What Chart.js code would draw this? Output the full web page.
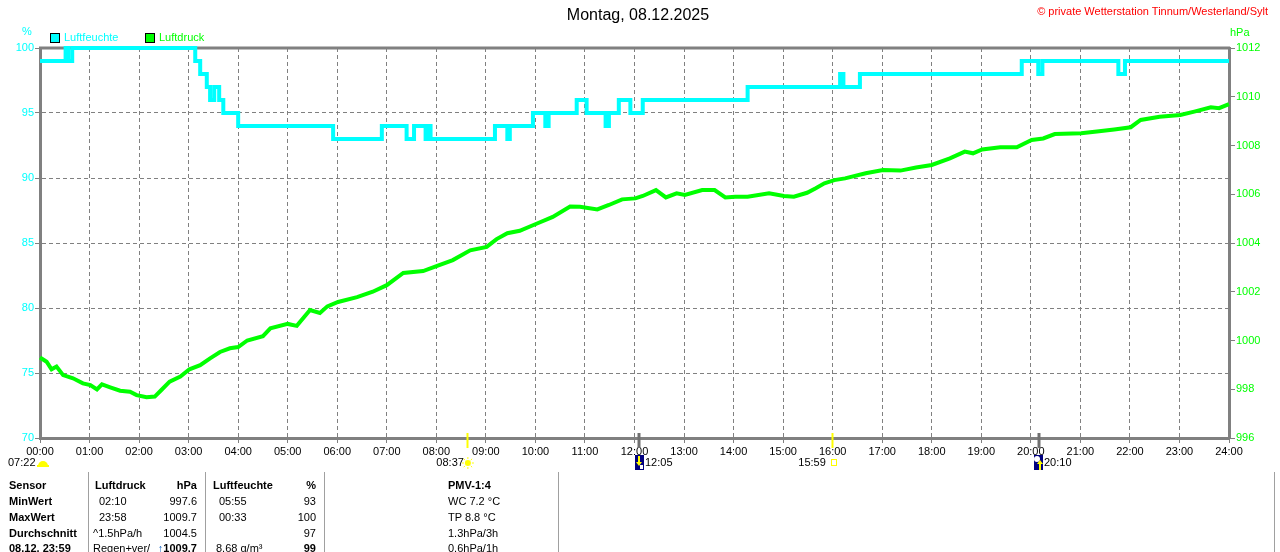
<!DOCTYPE html>
<html><head><meta charset="utf-8">
<script src="https://cdn.jsdelivr.net/npm/chart.js@4"></script>
<style>
html,body{margin:0;padding:0;background:#fff;width:1280px;height:552px;overflow:hidden;font-family:"Liberation Sans",Arial,sans-serif;}
#wrap{position:relative;width:1280px;height:552px;}
canvas{position:absolute;left:0;top:0;}
.t{position:absolute;font-size:11px;line-height:13px;white-space:nowrap;color:#000;}
.b{font-weight:bold;}
.sep{position:absolute;width:1px;background:#a0a0a0;top:472px;height:80px;}
.box{position:absolute;width:8px;height:8px;border:1px solid #000;}
</style></head><body>
<div id="wrap">
<canvas id="c" width="1280" height="552"></canvas>
<div class="t" style="left:0;width:1276px;text-align:center;top:6px;font-size:16px;line-height:18px;">Montag, 08.12.2025</div>
<div class="t" style="right:12px;top:5px;color:#ff0000;">© private Wetterstation Tinnum/Westerland/Sylt</div>
<div class="t" style="left:22px;top:25px;color:#00ffff;">%</div>
<div class="t" style="left:1230px;top:26px;color:#00ff00;">hPa</div>
<div class="box" style="left:50px;top:33px;background:#00ffff;"></div>
<div class="t" style="left:64px;top:31px;color:#00ffff;">Luftfeuchte</div>
<div class="box" style="left:145px;top:33px;background:#00ff00;"></div>
<div class="t" style="left:159px;top:31px;color:#00ff00;">Luftdruck</div>

<div class="sep" style="left:88px;"></div>
<div class="sep" style="left:205px;"></div>
<div class="sep" style="left:324px;"></div>
<div class="sep" style="left:558px;"></div>
<div class="sep" style="left:1274px;"></div>

<div class="t b" style="left:9px;top:479px;">Sensor</div>
<div class="t b" style="left:9px;top:495px;">MinWert</div>
<div class="t b" style="left:9px;top:511px;">MaxWert</div>
<div class="t b" style="left:9px;top:527px;">Durchschnitt</div>
<div class="t b" style="left:9px;top:542px;">08.12. 23:59</div>

<div class="t b" style="left:95px;top:479px;">Luftdruck</div>
<div class="t b" style="right:1083px;top:479px;">hPa</div>
<div class="t" style="left:99px;top:495px;">02:10</div>
<div class="t" style="right:1083px;top:495px;">997.6</div>
<div class="t" style="left:99px;top:511px;">23:58</div>
<div class="t" style="right:1083px;top:511px;">1009.7</div>
<div class="t" style="left:93px;top:527px;">^1.5hPa/h</div>
<div class="t" style="right:1083px;top:527px;">1004.5</div>
<div class="t" style="left:93px;top:542px;">Regen+ver/</div>
<div class="t b" style="right:1083px;top:542px;"><span style="color:#1060c0;">↑</span>1009.7</div>

<div class="t b" style="left:213px;top:479px;">Luftfeuchte</div>
<div class="t b" style="right:964px;top:479px;">%</div>
<div class="t" style="left:219px;top:495px;">05:55</div>
<div class="t" style="right:964px;top:495px;">93</div>
<div class="t" style="left:219px;top:511px;">00:33</div>
<div class="t" style="right:964px;top:511px;">100</div>
<div class="t" style="right:964px;top:527px;">97</div>
<div class="t" style="left:216px;top:542px;">8.68 g/m³</div>
<div class="t b" style="right:964px;top:542px;">99</div>

<div class="t b" style="left:448px;top:479px;">PMV-1:4</div>
<div class="t" style="left:448px;top:495px;">WC 7.2 °C</div>
<div class="t" style="left:448px;top:511px;">TP 8.8 °C</div>
<div class="t" style="left:448px;top:527px;">1.3hPa/3h</div>
<div class="t" style="left:448px;top:542px;">0.6hPa/1h</div>
</div>
<script>
// ---- data ----
const xLabels = ['00:00','01:00','02:00','03:00','04:00','05:00','06:00','07:00','08:00','09:00','10:00','11:00','12:00','13:00','14:00','15:00','16:00','17:00','18:00','19:00','20:00','21:00','22:00','23:00','24:00'];

// humidity (%) – change points in minutes after midnight
const humTime = [0,31,34,39,188,194,202,206,211,217,222,240,355,414,444,453,467,470,473,551,566,569,597,612,616,650,662,685,689,701,715,730,857,969,973,993,1189,1209,1214,1306,1314,1440];
const humVal  = [99,100,99,100,99,98,97,96,97,96,95,94,93,94,93,94,93,94,93,94,93,94,95,94,95,96,95,94,95,96,95,96,97,98,97,98,99,98,99,98,99,99];

// pressure (hPa)
const pressTime = [0,8,14,20,28,40,52,61,69,75,85,97,109,117,129,139,147,157,170,181,194,206,218,230,240,251,270,279,300,311,327,339,348,361,384,403,420,440,464,481,500,521,541,553,566,581,602,621,642,654,675,689,705,721,730,746,758,771,781,802,817,830,842,857,883,901,913,929,939,950,962,975,1000,1021,1042,1061,1080,1102,1120,1130,1141,1163,1183,1201,1215,1229,1261,1280,1301,1321,1333,1356,1381,1398,1418,1428,1440];
const pressVal = [999.3,999.13,998.82,998.93,998.58,998.45,998.24,998.17,997.99,998.2,998.08,997.94,997.9,997.76,997.67,997.7,997.97,998.31,998.52,998.82,998.99,999.27,999.53,999.68,999.73,1000.0,1000.18,1000.5,1000.68,1000.6,1001.25,1001.13,1001.4,1001.58,1001.78,1002.0,1002.27,1002.77,1002.85,1003.06,1003.3,1003.7,1003.84,1004.16,1004.4,1004.5,1004.8,1005.07,1005.5,1005.49,1005.38,1005.56,1005.79,1005.83,1005.93,1006.17,1005.87,1006.04,1005.97,1006.17,1006.17,1005.87,1005.9,1005.9,1006.04,1005.93,1005.9,1006.06,1006.24,1006.45,1006.58,1006.65,1006.86,1006.99,1006.97,1007.1,1007.2,1007.47,1007.75,1007.68,1007.84,1007.93,1007.93,1008.23,1008.29,1008.47,1008.5,1008.57,1008.66,1008.75,1009.05,1009.18,1009.25,1009.39,1009.57,1009.53,1009.7];

const dawnLabel = '07:22';
const sunriseTime = '08:37';
const sunsetTime = '15:59';
const moonsetTime = '12:05';
const moonriseTime = '20:10';

const hm = s => { const [h,m] = s.split(':').map(Number); return h*60+m; };
const FONT = '"Liberation Sans", Arial, sans-serif';

const decor = {
  id: 'decor',
  beforeDatasetsDraw(chart) {
    const {ctx, chartArea: a} = chart;
    ctx.save();
    ctx.strokeStyle = '#808080'; ctx.lineWidth = 3;
    ctx.beginPath(); ctx.moveTo(a.left - 1, a.top); ctx.lineTo(a.right + 1, a.top); ctx.stroke();
    ctx.restore();
  },
  afterDraw(chart) {
    const {ctx, chartArea: a, scales: {x}} = chart;
    const b = a.bottom;
    ctx.save();
    // sun markers
    ctx.strokeStyle = '#ffff00'; ctx.lineWidth = 2;
    [sunriseTime, sunsetTime].forEach(s => {
      const px = Math.round(x.getPixelForValue(hm(s))) + 0.5;
      ctx.beginPath(); ctx.moveTo(px, b - 5); ctx.lineTo(px, b + 10); ctx.stroke();
    });
    // moon markers
    ctx.strokeStyle = '#707070'; ctx.lineWidth = 3;
    [moonsetTime, moonriseTime].forEach(s => {
      const px = Math.round(x.getPixelForValue(hm(s)));
      ctx.beginPath(); ctx.moveTo(px, b - 5); ctx.lineTo(px, b + 10); ctx.stroke();
    });
    // second row labels
    ctx.font = '11px ' + FONT; ctx.fillStyle = '#000'; ctx.textBaseline = 'middle';
    const yr = 463;
    // dawn
    ctx.textAlign = 'left'; ctx.fillText(dawnLabel, 8, yr);
    ctx.fillStyle = '#ffff00';
    ctx.beginPath(); ctx.arc(43, yr + 3, 5, Math.PI, 0); ctx.fill();
    ctx.fillRect(37, yr + 2, 12, 2);
    // sunrise
    let px = x.getPixelForValue(hm(sunriseTime));
    ctx.fillStyle = '#000'; ctx.textAlign = 'right'; ctx.fillText(sunriseTime, px - 3, yr);
    ctx.fillStyle = '#ffff00';
    ctx.beginPath(); ctx.arc(px + 1, yr, 3, 0, Math.PI * 2); ctx.fill();
    ctx.strokeStyle = '#ffff00'; ctx.lineWidth = 1;
    for (let k = 0; k < 8; k++) {
      const an = k * Math.PI / 4;
      ctx.beginPath(); ctx.moveTo(px + 1 + Math.cos(an) * 4, yr + Math.sin(an) * 4);
      ctx.lineTo(px + 1 + Math.cos(an) * 6, yr + Math.sin(an) * 6); ctx.stroke();
    }
    // sunset
    px = x.getPixelForValue(hm(sunsetTime));
    ctx.fillStyle = '#000'; ctx.textAlign = 'right'; ctx.fillText(sunsetTime, px - 6, yr);
    ctx.strokeStyle = '#ffff00'; ctx.lineWidth = 1;
    ctx.strokeRect(Math.round(px) - 0.5, yr - 3.5, 5, 6);
    // moon set
    px = Math.round(x.getPixelForValue(hm(moonsetTime)));
    ctx.fillStyle = '#000080'; ctx.fillRect(px - 4, yr - 8, 9, 15);
    ctx.fillStyle = '#ffff00';
    ctx.fillRect(px - 1, yr - 7, 2, 7);
    ctx.beginPath(); ctx.moveTo(px - 3, yr - 1); ctx.lineTo(px + 3, yr - 1); ctx.lineTo(px, yr + 3); ctx.fill();
    ctx.fillStyle = '#ffffff'; ctx.fillRect(px + 1, yr + 2, 3, 4);
    ctx.fillStyle = '#000'; ctx.textAlign = 'left'; ctx.fillText(moonsetTime, px + 6, yr);
    // moon rise
    px = Math.round(x.getPixelForValue(hm(moonriseTime)));
    ctx.fillStyle = '#000080'; ctx.fillRect(px - 5, yr - 8, 9, 15);
    ctx.fillStyle = '#ffffff';
    ctx.beginPath(); ctx.arc(px - 2, yr - 4, 3, 0, Math.PI * 2); ctx.fill();
    ctx.fillStyle = '#ffff00';
    ctx.fillRect(px, yr, 2, 7);
    ctx.beginPath(); ctx.moveTo(px - 2, yr + 1); ctx.lineTo(px + 4, yr + 1); ctx.lineTo(px + 1, yr - 3); ctx.fill();
    ctx.fillStyle = '#000'; ctx.textAlign = 'left'; ctx.fillText(moonriseTime, px + 5, yr);
    ctx.restore();
  }
};

const gridCommon = {color: '#808080', lineWidth: 1, tickColor: '#808080', tickLength: 5};
const borderCommon = {color: '#808080', width: 3, dash: [4, 3]};

new Chart(document.getElementById('c').getContext('2d'), {
  type: 'line',
  data: {
    datasets: [
      {
        label: 'Luftdruck', yAxisID: 'yR',
        data: pressTime.map((t, i) => ({x: t, y: pressVal[i]})),
        borderColor: '#00ff00', backgroundColor: '#00ff00', borderWidth: 4,
        pointRadius: 0, tension: 0, clip: false, fill: false
      },
      {
        label: 'Luftfeuchte', yAxisID: 'yL',
        data: humTime.map((t, i) => ({x: t, y: humVal[i]})),
        borderColor: '#00ffff', backgroundColor: '#00ffff', borderWidth: 4,
        stepped: true, pointRadius: 0, clip: false, fill: false
      }
    ]
  },
  options: {
    responsive: false, animation: false, devicePixelRatio: 1,
    layout: {padding: {top: 48, left: 0, right: 0, bottom: 0}},
    plugins: {legend: {display: false}, tooltip: {enabled: false}, title: {display: false}},
    scales: {
      x: {
        type: 'linear', min: 0, max: 1440,
        ticks: {stepSize: 60, autoSkip: false, maxRotation: 0, color: '#000', padding: 2,
          font: {family: FONT, size: 11}, callback: v => xLabels[Math.round(v / 60)]},
        grid: Object.assign({}, gridCommon),
        border: Object.assign({}, borderCommon),
        afterFit(s) { s.height = 114; }
      },
      yL: {
        position: 'left', min: 70, max: 100,
        ticks: {stepSize: 5, color: '#00ffff', padding: 1, font: {family: FONT, size: 11}, callback: v => String(v)},
        grid: Object.assign({}, gridCommon),
        border: Object.assign({}, borderCommon),
        afterFit(s) { s.width = 40; }
      },
      yR: {
        position: 'right', min: 996, max: 1012,
        ticks: {stepSize: 2, color: '#00ff00', padding: 1, font: {family: FONT, size: 11}, callback: v => String(v)},
        grid: {drawOnChartArea: false, color: '#808080', tickColor: '#808080', tickLength: 6},
        border: {color: '#808080', width: 3},
        afterFit(s) { s.width = 51; }
      }
    }
  },
  plugins: [decor]
});
</script>
</body></html>
